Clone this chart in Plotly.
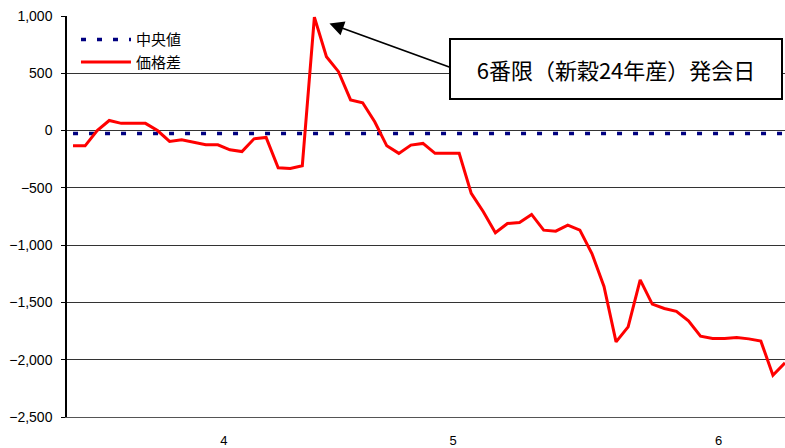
"""価格差と中央値の推移 (Plotly)."""

import plotly.graph_objects as go

# 日次の価格差 (円)
price_gap = [
    -133, -133, 0, 88, 63, 63, 63, 0, -95, -80,
    -105, -124, -124, -168, -183, -72, -60, -325, -330, -307,
    990, 645, 514, 268, 243, 77, -133, -199, -127, -112,
    -199, -199, -199, -548, -709, -892, -811, -802, -732, -869,
    -878, -825, -869, -1073, -1360, -1844, -1713, -1303, -1515, -1553,
    -1578, -1660, -1795, -1815, -1815, -1806, -1818, -1838, -2135, -2028,
]
median_value = -25
days = list(range(len(price_gap)))

month_pos = [12.5, 31.5, 53.5]
month_labels = ["4", "5", "6"]

# 注記: 矢印の先 (発会日の山) と説明ボックス
arrow_tip = (21.25, 935)
arrow_tail = (31.7, 535)
note_center = (45.0, 535)
note_text = "6番限（新穀24年産）発会日"

FONT = "Liberation Sans, Arial, Noto Sans CJK JP, sans-serif"
JP_FONT = "Noto Sans CJK JP, sans-serif"

fig = go.Figure()
fig.add_trace(
    go.Scatter(
        x=days,
        y=[median_value] * len(days),
        mode="lines",
        name="中央値",
        line={"color": "#000080", "width": 3.5, "dash": "5px,11px"},
    )
)
fig.add_trace(
    go.Scatter(
        x=days,
        y=price_gap,
        mode="lines",
        name="価格差",
        line={"color": "#ff0000", "width": 3},
    )
)

fig.add_annotation(
    x=arrow_tip[0], y=arrow_tip[1],
    ax=arrow_tail[0], ay=arrow_tail[1],
    axref="x", ayref="y", xref="x", yref="y",
    text="", showarrow=True,
    arrowhead=2, arrowsize=1.6, arrowwidth=1.8, arrowcolor="black",
)
fig.add_annotation(
    x=note_center[0], y=note_center[1], xref="x", yref="y",
    text=note_text, showarrow=False,
    font={"family": JP_FONT, "size": 22, "color": "black"},
    bgcolor="white", bordercolor="black", borderwidth=2,
    width=328, height=56, align="center",
)

fig.update_layout(
    width=785,
    height=448,
    margin={"l": 67, "r": 0, "t": 16, "b": 31, "autoexpand": False},
    paper_bgcolor="white",
    plot_bgcolor="white",
    font={"family": FONT, "size": 14, "color": "black"},
    showlegend=True,
    legend={
        "x": 0.0125, "y": 0.982, "xanchor": "left", "yanchor": "top",
        "bgcolor": "rgba(0,0,0,0)",
        "font": {"family": JP_FONT, "size": 15},
        "itemwidth": 50, "tracegroupgap": 0,
    },
)
fig.update_xaxes(
    range=[-0.5, 59],
    tickvals=month_pos,
    ticktext=month_labels,
    showgrid=False,
    zeroline=False,
    automargin=False,
    showline=True, linecolor="#555", linewidth=1,
    ticks="", ticklabelstandoff=11,
    tickfont={"size": 13},
)
fig.update_yaxes(
    range=[-2500, 1000],
    dtick=500,
    tickformat=",d",
    showgrid=True, gridcolor="#333", gridwidth=1,
    zeroline=False,
    automargin=False,
    showline=True, linecolor="black", linewidth=1.5,
    ticks="outside", ticklen=4, tickcolor="black",
    ticklabelstandoff=6,
    tickfont={"size": 14},
)

# ページ既定の余白を消して図を左上に合わせる
fig.write_html(
    "out.html",
    config={"displayModeBar": False},
    post_script="document.body.style.margin='0';",
)
